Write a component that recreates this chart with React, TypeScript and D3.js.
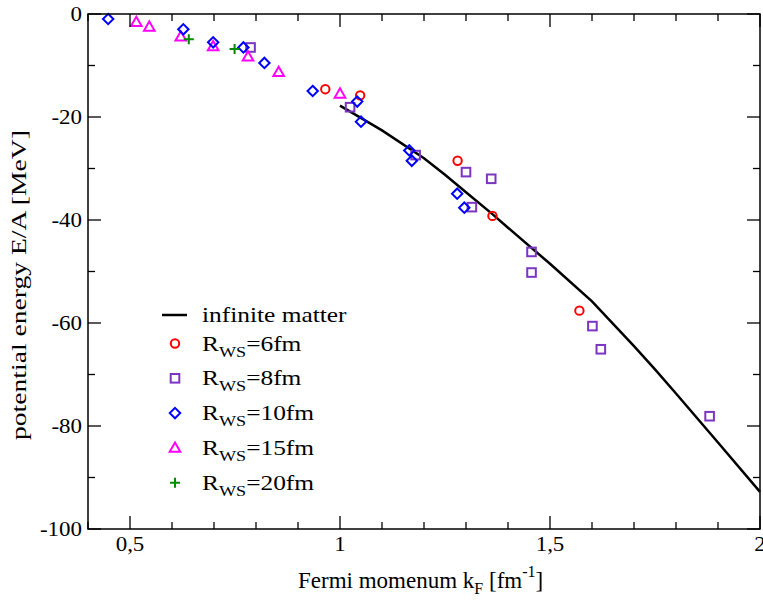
import React from "react";
import * as d3 from "d3";

const W = 763;
const H = 600;
const M = { left: 88, top: 14, right: 3, bottom: 71 };

// infinite matter curve
const lineX = [1.0, 1.1, 1.2, 1.25, 1.3, 1.365, 1.4, 1.5, 1.6, 1.7, 1.75, 1.8, 1.9, 2.0];
const lineY = [-17.8, -22.6, -28.0, -31.2, -34.6, -39.0, -41.5, -48.5, -55.8, -64.5, -69.0, -73.7, -83.2, -92.8];

// R_WS = 6 fm (circles)
const r6X = [0.965, 1.048, 1.28, 1.363, 1.57];
const r6Y = [-14.6, -15.8, -28.5, -39.2, -57.6];

// R_WS = 8 fm (squares)
const r8X = [0.787, 1.024, 1.18, 1.3, 1.36, 1.314, 1.456, 1.456, 1.601, 1.621, 1.88];
const r8Y = [-6.5, -18.1, -27.4, -30.7, -32.0, -37.5, -46.2, -50.2, -60.6, -65.1, -78.1];

// R_WS = 10 fm (diamonds)
const r10X = [0.448, 0.627, 0.698, 0.77, 0.82, 0.935, 1.041, 1.05, 1.165, 1.171, 1.279, 1.296];
const r10Y = [-0.97, -2.97, -5.5, -6.5, -9.5, -14.95, -17.0, -20.9, -26.5, -28.5, -34.9, -37.6];

// R_WS = 15 fm (triangles)
const r15X = [0.515, 0.546, 0.621, 0.698, 0.781, 0.854, 1.0];
const r15Y = [-1.6, -2.5, -4.4, -6.3, -8.3, -11.3, -15.5];

// R_WS = 20 fm (plus)
const r20X = [0.64, 0.749];
const r20Y = [-4.9, -6.8];

const xMajor = [0.5, 1, 1.5, 2];
const xMajorLabels = ["0,5", "1", "1,5", "2"];
const xMinor = [0.4, 0.6, 0.7, 0.8, 0.9, 1.1, 1.2, 1.3, 1.4, 1.6, 1.7, 1.8, 1.9];
const yMajor = [0, -20, -40, -60, -80, -100];
const yMajorLabels = ["0", "-20", "-40", "-60", "-80", "-100"];
const yMinor = [-10, -30, -50, -70, -90];

const legendLabels = ["6fm", "8fm", "10fm", "15fm", "20fm"];

const C_RED = "#ff0000";
const C_PURPLE = "#7b35c1";
const C_BLUE = "#0000ff";
const C_MAGENTA = "#ff00ff";
const C_GREEN = "#008b00";

const FONT = "Liberation Serif";

type Shape = "circle" | "square" | "diamond" | "triangle" | "plus";

function Marker({ shape, x, y, color }: { shape: Shape; x: number; y: number; color: string }) {
  const sw = 2;
  if (shape === "circle") return <circle cx={x} cy={y} r={4.2} fill="none" stroke={color} strokeWidth={sw} />;
  if (shape === "square") return <rect x={x - 4.3} y={y - 4.3} width={8.6} height={8.6} fill="none" stroke={color} strokeWidth={sw} />;
  if (shape === "diamond")
    return <path d={`M${x},${y - 5.2}L${x + 5.2},${y}L${x},${y + 5.2}L${x - 5.2},${y}Z`} fill="none" stroke={color} strokeWidth={sw} />;
  if (shape === "triangle")
    return <path d={`M${x},${y - 5.5}L${x + 5.3},${y + 3.8}L${x - 5.3},${y + 3.8}Z`} fill="none" stroke={color} strokeWidth={sw} />;
  return <path d={`M${x - 5},${y}H${x + 5}M${x},${y - 5}V${y + 5}`} fill="none" stroke={color} strokeWidth={sw} />;
}

export default function App() {
  const x = d3.scaleLinear().domain([0.4, 2]).range([M.left, W - M.right]);
  const y = d3.scaleLinear().domain([-100, 0]).range([H - M.bottom, M.top]);
  const x0 = x.range()[0], x1 = x.range()[1];
  const y0 = y.range()[1], y1 = y.range()[0];

  const line = d3
    .line<number>()
    .x((_, i) => x(lineX[i]))
    .y((d) => y(d));

  const series: { xs: number[]; ys: number[]; shape: Shape; color: string }[] = [
    { xs: r8X, ys: r8Y, shape: "square", color: C_PURPLE },
    { xs: r6X, ys: r6Y, shape: "circle", color: C_RED },
    { xs: r15X, ys: r15Y, shape: "triangle", color: C_MAGENTA },
    { xs: r10X, ys: r10Y, shape: "diamond", color: C_BLUE },
    { xs: r20X, ys: r20Y, shape: "plus", color: C_GREEN },
  ];
  const legendSeries: { shape: Shape; color: string }[] = [
    { shape: "circle", color: C_RED },
    { shape: "square", color: C_PURPLE },
    { shape: "diamond", color: C_BLUE },
    { shape: "triangle", color: C_MAGENTA },
    { shape: "plus", color: C_GREEN },
  ];

  const majorLen = 13;
  const minorLen = 7;
  const legendScale = 1.21;
  const tickScale = 1.12;

  return (
    <svg width={W} height={H} style={{ position: "absolute", left: 0, top: 0 }} fontFamily={FONT}>
      <rect x={0} y={0} width={W} height={H} fill="#fff" />
      {/* curve */}
      <path d={line(lineY) || ""} fill="none" stroke="#000" strokeWidth={2.5} />
      {/* markers */}
      {series.map((s, si) =>
        s.xs.map((xv, i) => <Marker key={`${si}-${i}`} shape={s.shape} x={x(xv)} y={y(s.ys[i])} color={s.color} />)
      )}
      {/* frame */}
      <rect x={x0} y={y0} width={x1 - x0} height={y1 - y0} fill="none" stroke="#000" strokeWidth={1.5} />
      {/* x ticks */}
      {xMajor.map((v, i) => (
        <g key={`xm${i}`}>
          <line x1={x(v)} x2={x(v)} y1={y1} y2={y1 - majorLen} stroke="#000" strokeWidth={1.3} />
          <line x1={x(v)} x2={x(v)} y1={y0} y2={y0 + majorLen} stroke="#000" strokeWidth={1.3} />
          <g transform={`translate(${x(v)},${y1 + 22}) scale(${tickScale},1)`}>
            <text x={0} y={0} textAnchor="middle" fontSize={20.5} fontFamily={FONT}>
              {xMajorLabels[i]}
            </text>
          </g>
        </g>
      ))}
      {xMinor.map((v, i) => (
        <g key={`xn${i}`}>
          <line x1={x(v)} x2={x(v)} y1={y1} y2={y1 - minorLen} stroke="#000" strokeWidth={1.3} />
          <line x1={x(v)} x2={x(v)} y1={y0} y2={y0 + minorLen} stroke="#000" strokeWidth={1.3} />
        </g>
      ))}
      {/* y ticks */}
      {yMajor.map((v, i) => (
        <g key={`ym${i}`}>
          <line x1={x0} x2={x0 + majorLen} y1={y(v)} y2={y(v)} stroke="#000" strokeWidth={1.3} />
          <line x1={x1} x2={x1 - majorLen} y1={y(v)} y2={y(v)} stroke="#000" strokeWidth={1.3} />
          <g transform={`translate(${x0 - 6},${y(v) + 7}) scale(${tickScale},1)`}>
            <text x={0} y={0} textAnchor="end" fontSize={20.5} fontFamily={FONT}>
              {yMajorLabels[i]}
            </text>
          </g>
        </g>
      ))}
      {yMinor.map((v, i) => (
        <g key={`yn${i}`}>
          <line x1={x0} x2={x0 + minorLen} y1={y(v)} y2={y(v)} stroke="#000" strokeWidth={1.3} />
          <line x1={x1} x2={x1 - minorLen} y1={y(v)} y2={y(v)} stroke="#000" strokeWidth={1.3} />
        </g>
      ))}
      {/* axis titles */}
      <text x={298} y={588} fontSize={23} fontFamily={FONT}>
        Fermi momenum k
        <tspan fontSize={16} dy={6}>F</tspan>
        <tspan dy={-6}> [fm</tspan>
        <tspan fontSize={16} dy={-11}>-1</tspan>
        <tspan dy={11}>]</tspan>
      </text>
      <text
        transform={`translate(26,285) rotate(-90)`}
        textAnchor="middle"
        fontSize={21}
        fontFamily={FONT}
        textLength={310}
        lengthAdjust="spacingAndGlyphs"
      >
        potential energy E/A [MeV]
      </text>
      {/* legend */}
      <g>
        <line x1={162} x2={187} y1={315} y2={315} stroke="#000" strokeWidth={2.5} />
        <g transform={`translate(202,322) scale(${legendScale},1)`}>
          <text x={0} y={0} fontSize={21} fontFamily={FONT}>
            infinite matter
          </text>
        </g>
        {legendSeries.map((s, i) => {
          const ly = 343.5 + i * 34.8;
          return (
            <g key={`lg${i}`}>
              <Marker shape={s.shape} x={175} y={ly} color={s.color} />
              <g transform={`translate(202,${ly + 7}) scale(${legendScale},1)`}>
                <text x={0} y={0} fontSize={21} fontFamily={FONT}>
                  R<tspan fontSize={15} dy={6}>WS</tspan>
                  <tspan dy={-6}>={legendLabels[i]}</tspan>
                </text>
              </g>
            </g>
          );
        })}
      </g>
    </svg>
  );
}
